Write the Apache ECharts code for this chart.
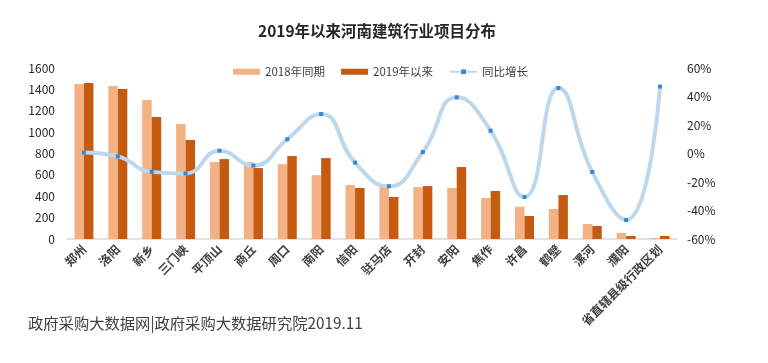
<!DOCTYPE html>
<html>
<head>
<meta charset="utf-8">
<script src="https://cdn.jsdelivr.net/npm/echarts@6/dist/echarts.min.js"></script>
<style>
html,body{margin:0;padding:0;background:#fff;}
#c{width:768px;height:363px;}
</style>
</head>
<body>
<div id="c"></div>
<script>
var categories = ['郑州','洛阳','新乡','三门峡','平顶山','商丘','周口','南阳','信阳','驻马店','开封','安阳','焦作','许昌','鹤壁','漯河','濮阳','省直辖县级行政区划'];
var values2018 = [1450,1431,1300,1076,720,720,700,598,505,495,486,477,383,302,280,140,56,9];
var values2019 = [1460,1403,1141,926,748,664,776,757,477,393,495,673,449,215,411,122,28,28];
var growth = [0.7,-2,-12.9,-14,2,-8.5,10,27.7,-6.4,-23,1,39.4,16,-30.5,46,-13,-46.7,47];
var leftTicks = {min:0, max:1600, interval:200};
var rightTicks = {min:-60, max:60, interval:20};
var footerText = '政府采购大数据网|政府采购大数据研究院2019.11';

var chart = echarts.init(document.getElementById('c'));
var font = '"Noto Sans CJK SC", "Noto Sans", sans-serif';
chart.setOption({
  backgroundColor:'#fff',
  textStyle:{fontFamily:font},
  title:{
    text:'2019年以来河南建筑行业项目分布',
    left:258, top:23, padding:0,
    textStyle:{fontSize:15.5, fontWeight:'bold', color:'#262626', fontFamily:font}
  },
  legend:{
    top:66, left:233, padding:0,
    itemWidth:27, itemHeight:6, itemGap:16,
    textStyle:{fontSize:11.5, color:'#404040', fontFamily:font},
    data:[
      {name:'2018年同期', icon:'rect'},
      {name:'2019年以来', icon:'rect'},
      {name:'同比增长'}
    ]
  },
  graphic:[{
    type:'text', left:28, top:316,
    style:{text:footerText, font:'15.3px ' + font, fill:'#404040'}
  }],
  grid:{left:67, right:91, top:68, bottom:124},
  xAxis:{
    type:'category',
    data:categories,
    axisLine:{lineStyle:{color:'#d9d9d9', width:1.5}},
    axisTick:{show:false},
    axisLabel:{rotate:45, interval:0, fontSize:12, fontWeight:'bold', color:'#404040', margin:8, fontFamily:font}
  },
  yAxis:[
    {
      type:'value', min:leftTicks.min, max:leftTicks.max, interval:leftTicks.interval,
      splitLine:{show:false}, axisLine:{show:false}, axisTick:{show:false},
      axisLabel:{fontSize:12, color:'#262626', margin:12, fontFamily:font, formatter:function(v){return String(v);}}
    },
    {
      type:'value', min:rightTicks.min, max:rightTicks.max, interval:rightTicks.interval,
      splitLine:{show:false}, axisLine:{show:false}, axisTick:{show:false},
      axisLabel:{fontSize:12, color:'#262626', margin:10, formatter:'{value}%', fontFamily:font}
    }
  ],
  series:[
    {
      name:'2018年同期', type:'bar', data:values2018, barWidth:9.5, barGap:'0%',
      itemStyle:{color:'#f4b183'}
    },
    {
      name:'2019年以来', type:'bar', data:values2019, barWidth:9.5, barGap:'0%',
      itemStyle:{color:'#c55a11'}
    },
    {
      name:'同比增长', type:'line', yAxisIndex:1, data:growth, smooth:0.5,
      symbol:'rect', symbolSize:4, showSymbol:true,
      lineStyle:{color:'#bdd7ee', width:4},
      itemStyle:{color:'#3d86cf', borderWidth:0}
    }
  ]
});
</script>
</body>
</html>
